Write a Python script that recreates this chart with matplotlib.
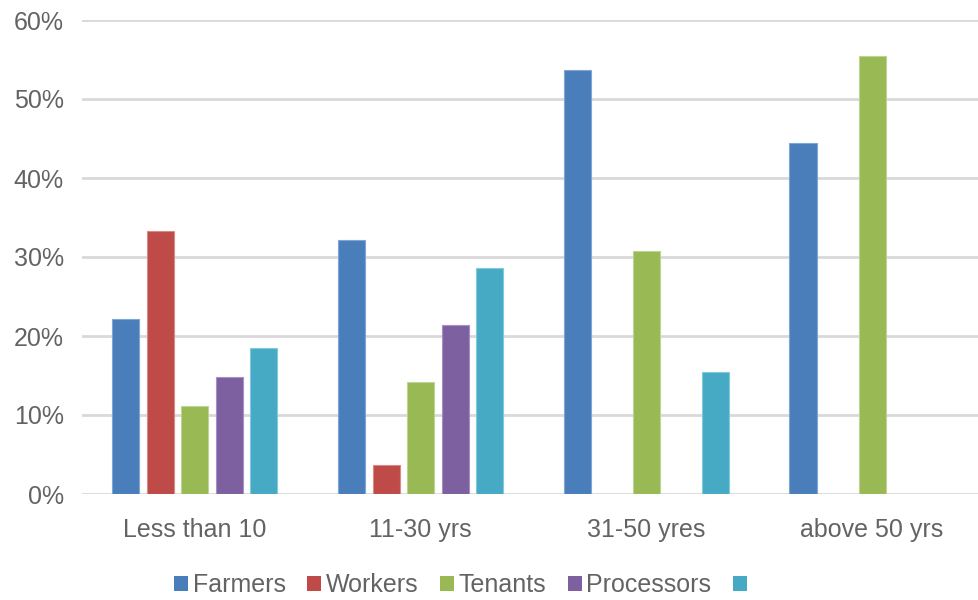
import matplotlib
matplotlib.use("Agg")
import matplotlib.pyplot as plt
import numpy as np
from matplotlib.patches import Patch

categories = ["Less than 10", "11-30 yrs", "31-50 yres", "above 50 yrs"]
series_names = ["Farmers", "Workers", "Tenants", "Processors", ""]
farmers = [0.222, 0.322, 0.537, 0.444]
workers = [0.333, 0.037, 0.0, 0.0]
tenants = [0.111, 0.142, 0.308, 0.555]
processors = [0.148, 0.214, 0.0, 0.0]
others = [0.185, 0.286, 0.154, 0.0]
yticks = [0, 0.1, 0.2, 0.3, 0.4, 0.5, 0.6]

colors = ["#4a7ebb", "#be4b48", "#98b954", "#7d60a0", "#46aac5"]
edges = ["#7ea6d6", "#d88a88", "#bcd592", "#a690c4", "#84c8dc"]
text_col = "#636363"

plt.rcParams["font.family"] = ["Liberation Sans", "DejaVu Sans"]

fig = plt.figure(figsize=(9.79, 6.0), dpi=100)
ax = fig.add_axes([82 / 979, 106 / 600, 897 / 979, 474 / 600])

x = np.arange(len(categories))
width = 0.12
step = 0.153
data = [farmers, workers, tenants, processors, others]
for i, vals in enumerate(data):
    offs = (i - 2) * step
    v = np.array(vals)
    mask = v > 0
    ax.bar(x[mask] + offs, v[mask], width, color=colors[i],
           edgecolor=edges[i], linewidth=0.8, zorder=3)

ax.set_xlim(-0.5, 3.5 - 6 / 226)
ax.set_ylim(0, 0.6)
ax.set_yticks(yticks)
ax.set_yticklabels([f"{int(round(t * 100))}%" for t in yticks])
ax.set_xticks(x)
ax.set_xticklabels(categories)
ax.yaxis.grid(True, color="#d9d9d9", linewidth=2, zorder=0)
ax.set_axisbelow(True)
for s in ax.spines.values():
    s.set_visible(False)
ax.tick_params(axis="both", length=0, labelsize=18, colors=text_col)
ax.tick_params(axis="y", pad=13)
ax.tick_params(axis="x", pad=17)

handles = [Patch(facecolor=c, edgecolor="none") for c in colors]
fig.legend(handles, series_names, loc="center", bbox_to_anchor=(463 / 979, 1 - 585 / 600),
           ncol=5, frameon=False, fontsize=18, labelcolor=text_col,
           handlelength=0.55, handleheight=0.55, handletextpad=0.2, columnspacing=0.85)

fig.savefig("out.png", dpi=100)
